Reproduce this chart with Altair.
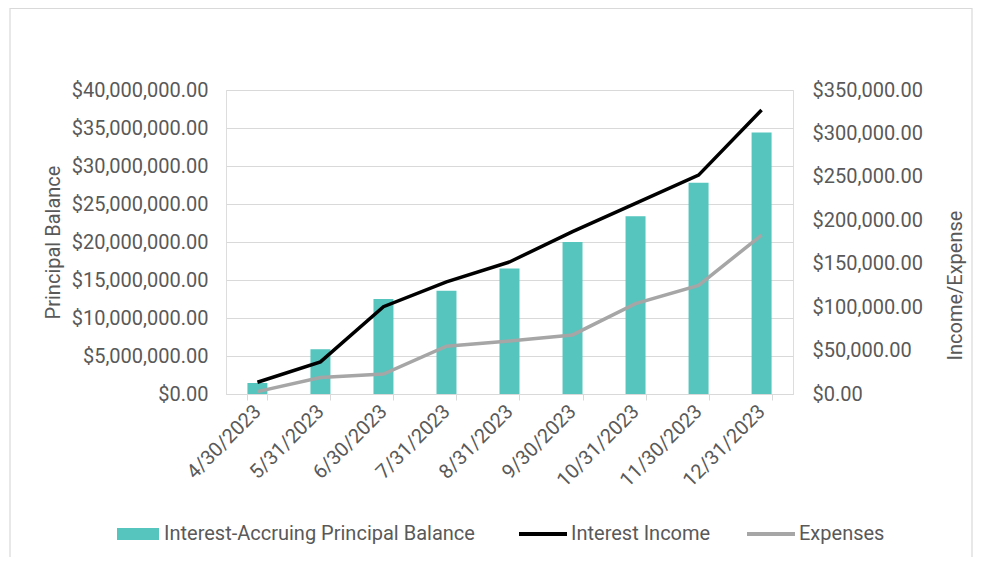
import altair as alt
import pandas as pd

dates = ["4/30/2023", "5/31/2023", "6/30/2023", "7/31/2023", "8/31/2023",
         "9/30/2023", "10/31/2023", "11/30/2023", "12/31/2023"]
principal = [1450000, 5900000, 12500000, 13600000, 16500000, 20000000, 23400000, 27800000, 34400000]
income = [13500, 37000, 100500, 129000, 152000, 187000, 219500, 252000, 327000]
expenses = [2700, 19000, 23000, 55000, 61000, 68000, 104000, 125000, 183000]

bar_name = "Interest-Accruing Principal Balance"
line_names = ["Interest Income", "Expenses"]

TEXT = "#595959"
GRID = "#d9d9d9"
FONT = "Roboto"
FS = 20

bars_df = pd.DataFrame({"date": dates, "value": principal, "series": bar_name})
lines_df = pd.DataFrame({
    "date": dates * 2,
    "value": income + expenses,
    "series": [line_names[0]] * len(dates) + [line_names[1]] * len(dates),
})

x_enc = alt.X(
    "date:N", sort=dates, title=None,
    scale=alt.Scale(paddingInner=0.683, paddingOuter=0.34),
    axis=alt.Axis(labelAngle=315, labelAlign="right", labelBaseline="middle",
                  labelPadding=8, tickBand="extent", tickSize=6, tickColor=GRID,
                  domainColor=GRID, labelColor=TEXT, labelFont=FONT, labelFontSize=FS,
                  grid=False),
)

frame = alt.Chart(pd.DataFrame({"a": [0]})).mark_rect(
    fill="transparent", stroke=GRID, strokeWidth=1.2
).encode(
    x=alt.value(-216), x2=alt.value(746), y=alt.value(-81.5), y2=alt.value(600)
)

bars = alt.Chart(bars_df).mark_bar().encode(
    x=x_enc,
    y=alt.Y("value:Q", title="Principal Balance",
            scale=alt.Scale(domain=[0, 40000000], nice=False),
            axis=alt.Axis(orient="left", format="$,.2f", values=list(range(0, 40000001, 5000000)),
                          grid=True, gridColor=GRID, ticks=False, domain=False,
                          labelPadding=18, labelColor=TEXT, labelFont=FONT, labelFontSize=FS,
                          titleColor=TEXT, titleFont=FONT, titleFontSize=FS, titleFontWeight="normal",
                          titlePadding=8)),
    fill=alt.Fill("series:N", scale=alt.Scale(domain=[bar_name], range=["#55C5BE"]),
                  legend=alt.Legend(title=None, orient="none", legendX=-109, legendY=423,
                                    symbolType="M-1,-0.286H1V0.286H-1Z", symbolSize=1764,
                                    symbolStrokeWidth=0, labelOffset=5, labelLimit=0,
                                    labelColor=TEXT, labelFont=FONT, labelFontSize=FS)),
)

lines = alt.Chart(lines_df).mark_line(strokeWidth=3.5).encode(
    x=x_enc,
    y=alt.Y("value:Q", title="Income/Expense",
            scale=alt.Scale(domain=[0, 350000], nice=False),
            axis=alt.Axis(orient="right", format="$,.2f", values=list(range(0, 350001, 50000)),
                          grid=False, ticks=False, domain=False,
                          labelPadding=19, labelColor=TEXT, labelFont=FONT, labelFontSize=FS,
                          titleColor=TEXT, titleFont=FONT, titleFontSize=FS, titleFontWeight="normal",
                          titleAngle=270, titlePadding=43, titleY=195)),
    stroke=alt.Stroke("series:N", sort=line_names,
                      scale=alt.Scale(domain=line_names, range=["#000000", "#A6A6A6"]),
                      legend=alt.Legend(title=None, orient="none", direction="horizontal",
                                        legendX=291, legendY=418,
                                        symbolType="stroke", symbolSize=2304, symbolStrokeWidth=4,
                                        labelOffset=2, columnPadding=28, labelLimit=0,
                                        labelColor=TEXT, labelFont=FONT, labelFontSize=FS)),
    detail="series:N",
)

chart = alt.layer(frame, bars, lines).resolve_scale(y="independent").properties(
    width=567, height=304,
    autosize=alt.AutoSizeParams(type="none"),
    padding={"left": 218, "top": 82, "right": 180, "bottom": 163},
).configure_view(strokeWidth=0).configure(background="white")

chart.save("out.html", embed_options={"renderer": "svg", "actions": False})
